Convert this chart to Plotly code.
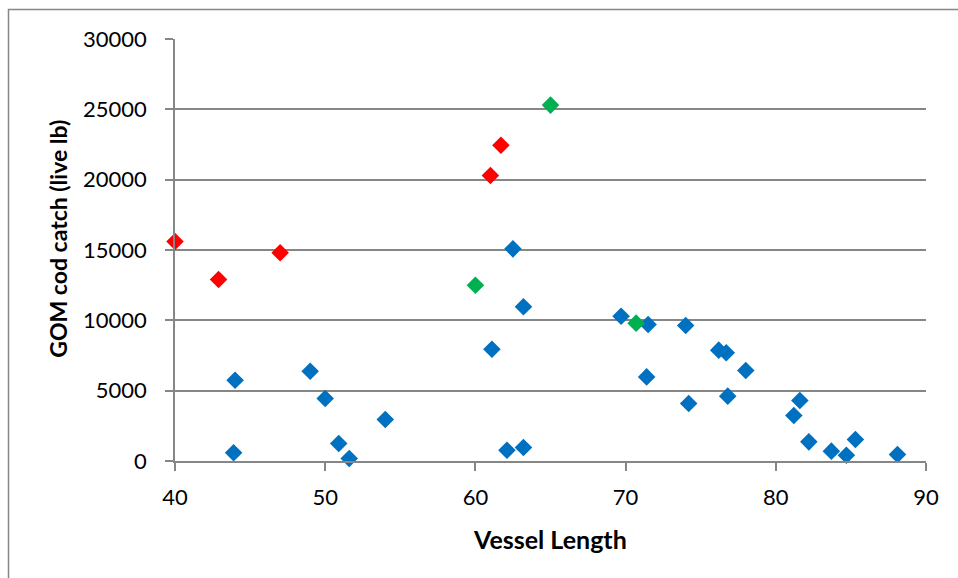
import plotly.graph_objects as go

# Vessel length (ft) vs GOM cod catch (live lb), grouped by marker colour
blue_len = [43.9, 44.0, 49.0, 50.0, 50.9, 51.6, 54.0, 61.1, 62.1, 62.5, 63.2, 63.2,
            69.7, 71.5, 71.4, 74.0, 74.2, 76.2, 76.7, 78.0, 76.8, 81.6, 81.2, 82.2,
            83.7, 84.7, 85.3, 88.1]
blue_catch = [580, 5740, 6380, 4440, 1240, 180, 2950, 7950, 770, 15080, 10960, 960,
              10290, 9700, 5980, 9630, 4090, 7880, 7690, 6430, 4610, 4300, 3230, 1360,
              700, 410, 1530, 460]

red_len = [40.0, 42.9, 47.0, 61.0, 61.7]
red_catch = [15600, 12900, 14800, 20300, 22450]

green_len = [60.0, 65.0, 70.7]
green_catch = [12500, 25300, 9800]

x_ticks = [40, 50, 60, 70, 80, 90]
y_ticks = [0, 5000, 10000, 15000, 20000, 25000, 30000]
y_tick_text = [str(v) for v in y_ticks]

GRID = "#868686"
FONT = "Lato"

fig = go.Figure()
for xs, ys, col in [(blue_len, blue_catch, "#0070C0"),
                    (red_len, red_catch, "#FF0000"),
                    (green_len, green_catch, "#00B050")]:
    fig.add_trace(go.Scatter(
        x=xs, y=ys, mode="markers", cliponaxis=False, showlegend=False,
        marker=dict(symbol="diamond", size=13.5, color=col, line=dict(width=0)),
    ))

W, H = 958, 578
L, R, T, B = 175, 32, 39, 116.5
pw, ph = W - L - R, H - T - B

def px_x(p):
    return (p - L) / pw

def px_y(p):
    return (H - B - p) / ph

fig.update_layout(
    width=W, height=H,
    margin=dict(l=L, r=R, t=T, b=B, pad=0),
    paper_bgcolor="white", plot_bgcolor="white",
    font=dict(family=FONT, size=22, color="black"),
    xaxis=dict(
        range=[40, 90], tickvals=x_ticks, showgrid=False, zeroline=False,
        showline=True, linecolor=GRID, linewidth=1.5,
        ticks="outside", ticklen=8, tickcolor=GRID, tickwidth=1.5,
        ticklabelstandoff=8, tickfont=dict(family=FONT, size=22),
    ),
    yaxis=dict(
        range=[0, 30000], tickvals=y_ticks, ticktext=y_tick_text,
        showgrid=True, gridcolor=GRID, gridwidth=1.5, zeroline=False,
        showline=True, linecolor=GRID, linewidth=1.5,
        ticks="outside", ticklen=8, tickcolor=GRID, tickwidth=1.5,
        ticklabelstandoff=14, tickfont=dict(family=FONT, size=22),
    ),
    annotations=[
        dict(text="<b>Vessel Length</b>", xref="paper", yref="paper",
             x=px_x(549.5), y=px_y(540), xanchor="center", yanchor="middle",
             showarrow=False, font=dict(family=FONT, size=25)),
        dict(text="<b>GOM cod catch (live lb)</b>", xref="paper", yref="paper",
             x=px_x(58), y=px_y(239), xanchor="center", yanchor="middle",
             textangle=-90, showarrow=False, font=dict(family=FONT, size=23)),
    ],
    shapes=[
        dict(type="rect", xref="paper", yref="paper",
             x0=px_x(8.5), x1=px_x(W + 5), y0=px_y(H + 5), y1=px_y(9.5),
             line=dict(color=GRID, width=1.5), fillcolor="rgba(0,0,0,0)",
             layer="below"),
    ],
)

fig.write_html("out.html")
